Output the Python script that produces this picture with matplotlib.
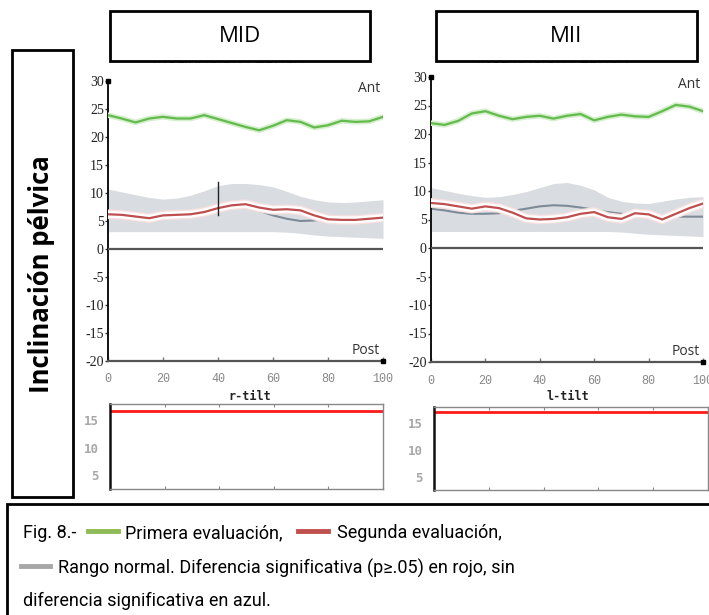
import matplotlib
matplotlib.use("Agg")
import matplotlib.pyplot as plt
import matplotlib.patheffects as pe
from matplotlib.patches import Rectangle
import numpy as np

W, H = 709, 615

# ---------------- data ----------------
x_pct = [0, 5, 10, 15, 20, 25, 30, 35, 40, 45, 50, 55, 60, 65, 70, 75, 80, 85, 90, 95, 100]

# MID (r-tilt)
mid_first = [23.9, 23.3, 22.6, 23.3, 23.6, 23.3, 23.3, 23.9, 23.2, 22.5, 21.8, 21.2, 22.0, 23.0, 22.7, 21.7, 22.1, 22.9, 22.7, 22.8, 23.6]
mid_second = [6.2, 6.1, 5.8, 5.5, 6.0, 6.1, 6.2, 6.6, 7.3, 7.8, 8.0, 7.4, 7.0, 7.1, 6.9, 6.0, 5.3, 5.2, 5.2, 5.4, 5.6]
mid_norm_mean = [6.2, 6.1, 6.0, 6.1, 6.3, 6.4, 6.5, 6.8, 7.2, 7.5, 7.4, 6.8, 6.0, 5.4, 5.0, 5.1, 5.3, 5.4, 5.4, 5.4, 5.4]
mid_norm_upper = [10.7, 10.2, 9.7, 9.2, 8.9, 9.1, 9.6, 10.4, 11.3, 11.7, 11.7, 11.5, 11.1, 10.3, 9.4, 8.8, 8.4, 8.3, 8.4, 8.6, 8.8]
mid_norm_lower = [3.1, 3.1, 3.1, 3.1, 3.1, 3.1, 3.1, 3.1, 3.1, 3.1, 3.1, 3.1, 3.1, 3.0, 2.8, 2.5, 2.3, 2.2, 2.1, 2.0, 1.9]
mid_signif_x = 40
mid_signif_range = [6.1, 12.0]
mid_pvalue_level = 16.8

# MII (l-tilt)
mii_first = [21.9, 21.6, 22.3, 23.6, 24.0, 23.2, 22.6, 23.0, 23.2, 22.7, 23.2, 23.5, 22.4, 23.0, 23.4, 23.1, 23.0, 24.0, 25.1, 24.8, 24.0]
mii_second = [7.9, 7.7, 7.3, 6.9, 7.3, 7.0, 6.2, 5.2, 5.0, 5.1, 5.4, 6.0, 6.3, 5.4, 5.1, 6.1, 5.9, 5.0, 6.0, 7.0, 7.8]
mii_norm_mean = [6.9, 6.6, 6.2, 6.0, 6.0, 6.1, 6.5, 6.9, 7.3, 7.5, 7.4, 7.1, 6.7, 6.3, 6.0, 5.8, 5.6, 5.5, 5.5, 5.5, 5.5]
mii_norm_upper = [10.6, 10.1, 9.6, 9.2, 8.9, 9.0, 9.4, 9.9, 10.6, 11.3, 11.5, 11.0, 10.2, 8.9, 8.2, 7.9, 7.8, 8.2, 8.6, 8.9, 9.0]
mii_norm_lower = [2.9, 2.9, 2.9, 2.9, 2.9, 2.9, 2.9, 2.9, 2.9, 2.9, 2.9, 2.9, 2.9, 2.9, 2.8, 2.6, 2.4, 2.3, 2.2, 2.1, 2.0]
mii_pvalue_level = 17.1

y_ticks_main = [-20, -15, -10, -5, 0, 5, 10, 15, 20, 25, 30]
x_ticks = [0, 20, 40, 60, 80, 100]
y_ticks_low = [5, 10, 15]
panel_titles = ["MID", "MII"]
tilt_labels = ["r-tilt", "l-tilt"]

# ---------------- styles ----------------
GREEN = "#62bb4c"
RED = "#bf4f4f"
BAND = "#d9dde1"
MEANC = "#7d8a98"

fig = plt.figure(figsize=(W / 100, H / 100), dpi=100)


def box(x0, y0, x1, y1):
    return [x0 / W, 1 - y1 / H, (x1 - x0) / W, (y1 - y0) / H]


def fx(px):
    return px / W


def fy(py):
    return 1 - py / H


def main_panel(rect, first, second, mean, upper, lower):
    ax = fig.add_axes(rect)
    ax.fill_between(x_pct, lower, upper, color=BAND, lw=0, zorder=1)
    ax.plot(x_pct, mean, color=MEANC, lw=1.5, zorder=2)
    ax.plot(x_pct, second, color=RED, lw=1.6, zorder=4,
            path_effects=[pe.Stroke(linewidth=7, foreground="#f6e0e0"),
                          pe.Stroke(linewidth=5, foreground="white"),
                          pe.Normal()])
    ax.plot(x_pct, first, color=GREEN, lw=1.6, zorder=4,
            path_effects=[pe.Stroke(linewidth=4.0, foreground="#d5efcc"),
                          pe.Normal()])
    ax.axhline(0, color="#555555", lw=1.6, zorder=3)
    ax.set_xlim(0, 100)
    ax.set_ylim(-20, 30)
    for s in ["top", "right"]:
        ax.spines[s].set_visible(False)
    ax.spines["left"].set_color("#111111")
    ax.spines["left"].set_linewidth(1.4)
    ax.spines["bottom"].set_color("#555555")
    ax.spines["bottom"].set_linewidth(1.6)
    ax.set_yticks(y_ticks_main)
    ax.set_yticklabels([str(v) for v in y_ticks_main],
                       fontfamily="Liberation Serif", fontsize=10, color="#222222")
    ax.set_xticks(x_ticks)
    ax.set_xticklabels([str(v) for v in x_ticks],
                       fontfamily="Liberation Mono", fontsize=8.5, color="#888888")
    ax.tick_params(axis="y", direction="out", length=2, width=1, pad=1, color="#333333")
    ax.tick_params(axis="x", direction="in", length=3, width=1, pad=9, color="#777777")
    ax.plot([0], [30], marker="s", ms=2.5, color="black", clip_on=False, zorder=6)
    ax.plot([100], [-20], marker="s", ms=2.5, color="black", clip_on=False, zorder=6)
    ax.text(99, 28.7, "Ant", ha="right", va="center", fontsize=10,
            fontfamily="Open Sans", color="#333333")
    ax.text(99, -18.2, "Post", ha="right", va="center", fontsize=10,
            fontfamily="Open Sans", color="#333333")
    ax.patch.set_alpha(0)
    return ax


def low_panel(rect, level):
    ax = fig.add_axes(rect)
    ax.axhline(level, color="#ff1a1a", lw=2.0)
    ax.set_xlim(0, 100)
    ax.set_ylim(2.5, 18)
    for s in ["top", "right", "bottom"]:
        ax.spines[s].set_color("#888888")
        ax.spines[s].set_linewidth(1.0)
    ax.spines["left"].set_color("#111111")
    ax.spines["left"].set_linewidth(1.8)
    ax.set_yticks(y_ticks_low)
    ax.set_yticklabels([str(v) for v in y_ticks_low], fontfamily="DejaVu Sans Mono",
                       fontweight="bold", fontsize=9, color="#a8a8a8")
    ax.set_xticks(x_ticks)
    ax.set_xticklabels([])
    ax.tick_params(axis="x", direction="in", length=2.5, color="#888888",
                   top=True, bottom=True)
    ax.tick_params(axis="y", length=0, pad=8)
    return ax


axL = main_panel(box(108, 81, 383, 361), mid_first, mid_second, mid_norm_mean,
                 mid_norm_upper, mid_norm_lower)
axL.plot([mid_signif_x, mid_signif_x], mid_signif_range, color="#222222", lw=1.0, zorder=5)
axR = main_panel(box(431, 77, 703, 362), mii_first, mii_second, mii_norm_mean,
                 mii_norm_upper, mii_norm_lower)

low_panel(box(110, 404, 383, 489), mid_pvalue_level)
low_panel(box(434, 407, 708, 490), mii_pvalue_level)

fig.text(fx(250), fy(396), tilt_labels[0], ha="center", va="center",
         fontfamily="DejaVu Sans Mono", fontweight="bold", fontsize=8.5, color="#222222")
fig.text(fx(568), fy(397), tilt_labels[1], ha="center", va="center",
         fontfamily="DejaVu Sans Mono", fontweight="bold", fontsize=8.5, color="#222222")

# original heading, mostly hidden under the title boxes
for xc in [228, 552]:
    fig.text(fx(xc), fy(59), "INCLINACION PELVICA", ha="center", va="center",
             fontfamily="Liberation Sans", fontsize=10, color="#555555", zorder=1)

# title boxes
for (x0, x1), t in zip([(110, 370), (436, 697)], panel_titles):
    fig.patches.append(Rectangle((fx(x0), fy(61)), (x1 - x0) / W, 50 / H,
                                 transform=fig.transFigure, facecolor="white",
                                 edgecolor="black", lw=2.0, zorder=10))
    fig.text(fx((x0 + x1) / 2), fy(37), t, ha="center", va="center",
             fontfamily="Open Sans", fontsize=16, color="black", zorder=11)

# y-label box
fig.patches.append(Rectangle((fx(12), fy(497)), 61 / W, 447 / H,
                             transform=fig.transFigure, facecolor="white",
                             edgecolor="black", lw=2.0, zorder=10))
fig.text(fx(42), fy(274), "Inclinación pélvica", rotation=90, ha="center", va="center",
         fontfamily="Open Sans", fontweight="bold", fontsize=18.5, color="black", zorder=11)

# caption box
fig.patches.append(Rectangle((fx(7), fy(620)), 720 / W, 116 / H,
                             transform=fig.transFigure, facecolor="white",
                             edgecolor="black", lw=2.0, zorder=10))
cap_font = ["Roboto", "DejaVu Sans"]
cfs = 13
fig.text(fx(23), fy(533), "Fig. 8.-", ha="left", va="center", family=cap_font,
         fontsize=cfs, zorder=11)
fig.lines.append(plt.Line2D([fx(88), fx(118)], [fy(531), fy(531)], color="#8dbb55", lw=3.5,
                            transform=fig.transFigure, zorder=11))
fig.text(fx(125), fy(533), "Primera evaluación,", ha="left", va="center", family=cap_font,
         fontsize=cfs, zorder=11)
fig.lines.append(plt.Line2D([fx(298), fx(328)], [fy(531), fy(531)], color="#c0504d", lw=3.5,
                            transform=fig.transFigure, zorder=11))
fig.text(fx(337), fy(533), "Segunda evaluación,", ha="left", va="center", family=cap_font,
         fontsize=cfs, zorder=11)
fig.lines.append(plt.Line2D([fx(21), fx(50)], [fy(566), fy(566)], color="#a6a6a6", lw=3.5,
                            transform=fig.transFigure, zorder=11))
fig.text(fx(58), fy(568), "Rango normal. Diferencia significativa (p≥.05) en rojo, sin",
         ha="left", va="center", family=cap_font, fontsize=cfs, zorder=11)
fig.text(fx(23), fy(601), "diferencia significativa en azul.", ha="left", va="center",
         family=cap_font, fontsize=cfs, zorder=11)

fig.savefig("out.png", dpi=100)
